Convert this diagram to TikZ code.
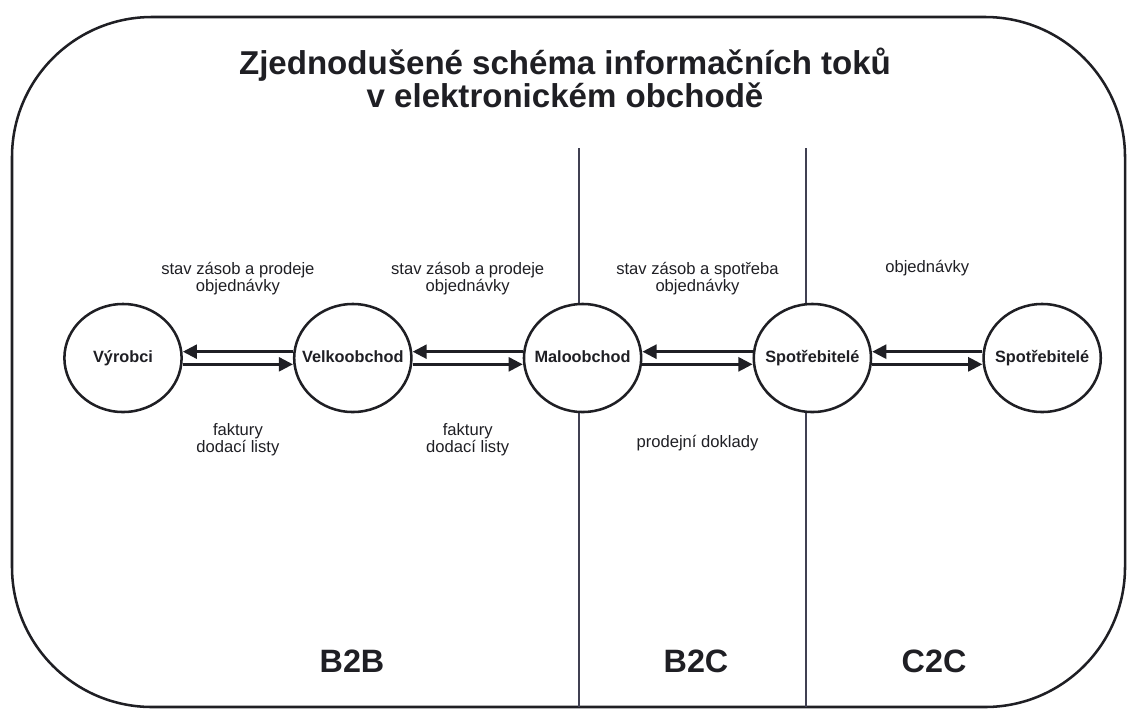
\documentclass[tikz,border=0pt]{standalone}
\usepackage{fontspec}
\setmainfont{Liberation Sans}
\usetikzlibrary{positioning, shapes.geometric, arrows.meta, calc}
\definecolor{ink}{rgb}{0.12, 0.12, 0.14}
\definecolor{divider}{rgb}{0.25, 0.25, 0.32}
\newcommand{\pname}[1]{\makebox[0pt]{#1}}

\tikzset{
    party/.style={ellipse, draw=ink, line width=1.8pt, fill=white,
        minimum width=2.93cm, minimum height=2.7cm, inner sep=0pt,
        text height=8.5pt, text depth=2.5pt,
        font=\bfseries\fontsize{11.6}{12}\selectfont, text=ink},
    flow/.style={draw=ink, line width=1.7pt, -{Triangle[length=10pt,width=10pt]}},
    flowlbl/.style={align=center, inner sep=0pt,
        font=\fontsize{11.8}{12.2}\selectfont, text=ink},
    market/.style={font=\bfseries\fontsize{23}{24}\selectfont, text=ink},
}

\begin{document}
\begin{tikzpicture}[x=0.025cm, y=-0.025cm]
\useasboundingbox (0,0) rectangle (1128,711);

    % ramecek
\draw[ink, line width=1.8pt, rounded corners=3.5cm] (12,17) rectangle (1125,707);

\node[anchor=north, align=center, text=ink,
    font=\bfseries\fontsize{23.5}{21}\selectfont] (title) at (565,43) {
    Zjednodušené schéma informačních toků\\
    v elektronickém obchodě
    };

    % deleni trhu
\coordinate (divAtop) at (579,148);
\coordinate (divAbot) at (579,707);
\coordinate (divBtop) at (806,148);
\coordinate (divBbot) at (806,707);
\draw[divider, line width=1.1pt] (divAtop) -- (divAbot);
\draw[divider, line width=1.1pt] (divBtop) -- (divBbot);

    % ucastnici
\node[party] (vyrobci) at (123,358) {\pname{Výrobci}};
\node[party, right=2.75cm of vyrobci] (velkoobchod) {\pname{Velkoobchod}};
\node[party, right=2.75cm of velkoobchod] (maloobchod) {\pname{Maloobchod}};
\node[party, right=2.75cm of maloobchod] (spotrebA) {\pname{Spotřebitelé}};
\node[party, right=2.75cm of spotrebA] (spotrebB) {\pname{Spotřebitelé}};

    % toky
\draw[flow] ([yshift=4.5pt]velkoobchod.west) -- ([yshift=4.5pt]vyrobci.east);
\draw[flow] ([yshift=-4.5pt]vyrobci.east) -- ([yshift=-4.5pt]velkoobchod.west);
\draw[flow] ([yshift=4.5pt]maloobchod.west) -- ([yshift=4.5pt]velkoobchod.east);
\draw[flow] ([yshift=-4.5pt]velkoobchod.east) -- ([yshift=-4.5pt]maloobchod.west);
\draw[flow] ([yshift=4.5pt]spotrebA.west) -- ([yshift=4.5pt]maloobchod.east);
\draw[flow] ([yshift=-4.5pt]maloobchod.east) -- ([yshift=-4.5pt]spotrebA.west);
\draw[flow] ([yshift=4.5pt]spotrebB.west) -- ([yshift=4.5pt]spotrebA.east);
\draw[flow] ([yshift=-4.5pt]spotrebA.east) -- ([yshift=-4.5pt]spotrebB.west);

\coordinate (gapA) at ($(vyrobci)!0.5!(velkoobchod)$);
\coordinate (gapB) at ($(velkoobchod)!0.5!(maloobchod)$);
\coordinate (gapC) at ($(maloobchod)!0.5!(spotrebA)$);
\coordinate (gapD) at ($(spotrebA)!0.5!(spotrebB)$);

    % popisky
\node[flowlbl, above=1.56cm of gapA] (infoA) {stav zásob a prodeje\\objednávky};
\node[flowlbl, below=1.63cm of gapA] (docA) {faktury\\dodací listy};
\node[flowlbl, above=1.56cm of gapB] (infoB) {stav zásob a prodeje\\objednávky};
\node[flowlbl, below=1.63cm of gapB] (docB) {faktury\\dodací listy};
\node[flowlbl, above=1.56cm of gapC] (infoC) {stav zásob a spotřeba\\objednávky};
\node[flowlbl, below=1.93cm of gapC] (docC) {prodejní doklady};
\node[flowlbl, above=2.04cm of gapD] (infoD) {objednávky};

\node[market] (b2b) at (352,661) {B2B};
\node[market] (b2c) at (696,661) {B2C};
\node[market] (c2c) at (934,661) {C2C};

\end{tikzpicture}
\end{document}
